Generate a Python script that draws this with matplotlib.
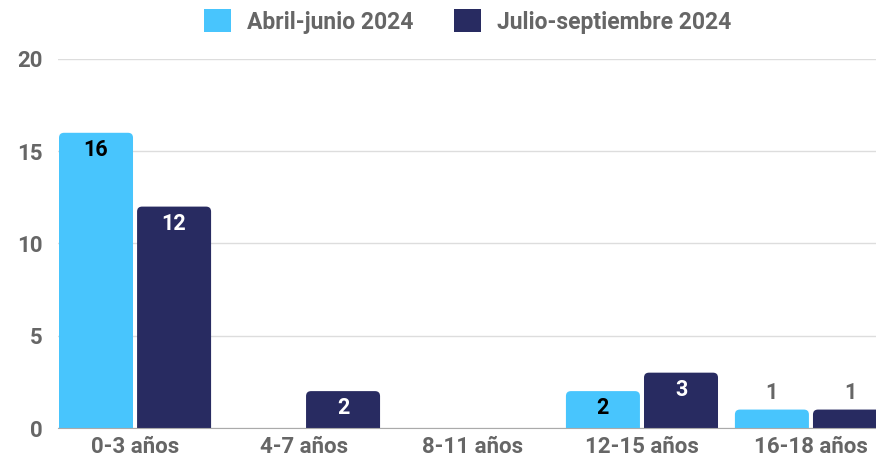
import matplotlib
matplotlib.use("Agg")
import matplotlib.pyplot as plt
from matplotlib.patches import FancyBboxPatch, Patch

# --- data ---------------------------------------------------------------------
categories = ["0-3 años", "4-7 años", "8-11 años", "12-15 años", "16-18 años"]
series_names = ["Abril-junio 2024", "Julio-septiembre 2024"]
abr_jun = [16, 0, 0, 2, 1]
jul_sep = [12, 2, 0, 3, 1]
y_ticks = [0, 5, 10, 15, 20]

colours = ["#48C5FD", "#282B61"]
inside_text = ["#000000", "#FFFFFF"]
grey = "#666666"

plt.rcParams["font.family"] = ["Roboto", "DejaVu Sans"]
plt.rcParams["font.weight"] = "bold"

fig = plt.figure(figsize=(8.76, 4.59), dpi=100)
ax = fig.add_axes([0.0662, 0.0675, 0.9338, 0.804])

x = list(range(len(categories)))
width = 0.438
offset = 0.231

# px -> data aspect for round corners
aspect = (20 / (0.804 * 459)) / (4.841 / (0.9338 * 876))
radius = 5 * 4.841 / (0.9338 * 876)

for s, vals in enumerate([abr_jun, jul_sep]):
    xs = [xi + (offset if s else -offset) for xi in x]
    bars = ax.bar(xs, vals, width=width, color=colours[s], alpha=0)
    for bar, v in zip(bars, vals):
        if v == 0:
            continue
        patch = FancyBboxPatch(
            (bar.get_x(), -1), bar.get_width(), bar.get_height() + 1,
            boxstyle=f"round,pad=0,rounding_size={radius}",
            mutation_aspect=aspect, facecolor=colours[s], edgecolor="none",
            zorder=3,
        )
        ax.add_patch(patch)
        cx = bar.get_x() + bar.get_width() / 2
        if v >= 2:
            ax.annotate(str(v), (cx, v), xytext=(0, -17), textcoords="offset pixels",
                        ha="center", va="center", fontsize=15.5, fontweight="bold",
                        color=inside_text[s], zorder=4)
        else:
            ax.annotate(str(v), (cx, v), xytext=(0, 17), textcoords="offset pixels",
                        ha="center", va="center", fontsize=15.5, fontweight="bold",
                        color=grey, zorder=4)

ax.set_xlim(-0.456, 4.385)
ax.set_ylim(0, 20)
ax.set_yticks(y_ticks)
ax.set_yticklabels([str(t) for t in y_ticks], fontsize=16, color=grey, fontweight="bold")
ax.set_xticks(x)
ax.set_xticklabels(categories, fontsize=16, color=grey, fontweight="bold")
ax.tick_params(axis="both", length=0)
ax.tick_params(axis="y", pad=11)
ax.tick_params(axis="x", pad=6)

ax.grid(axis="y", color="#DDDDDD", lw=1, zorder=0)
ax.set_axisbelow(True)
for sp in ("top", "right", "left"):
    ax.spines[sp].set_visible(False)
ax.spines["bottom"].set_color("#AAAAAA")
ax.spines["bottom"].set_zorder(5)

handles = [Patch(facecolor=c, label=n) for c, n in zip(colours, series_names)]
leg = fig.legend(handles=handles, loc="center", bbox_to_anchor=(0.534, 0.953), ncol=2,
                 frameon=False, handlelength=1.17, handleheight=1.17, handletextpad=0.68,
                 columnspacing=1.8, fontsize=16.5)
for t in leg.get_texts():
    t.set_color(grey)
    t.set_fontweight("bold")

fig.savefig("out.png", dpi=100)
